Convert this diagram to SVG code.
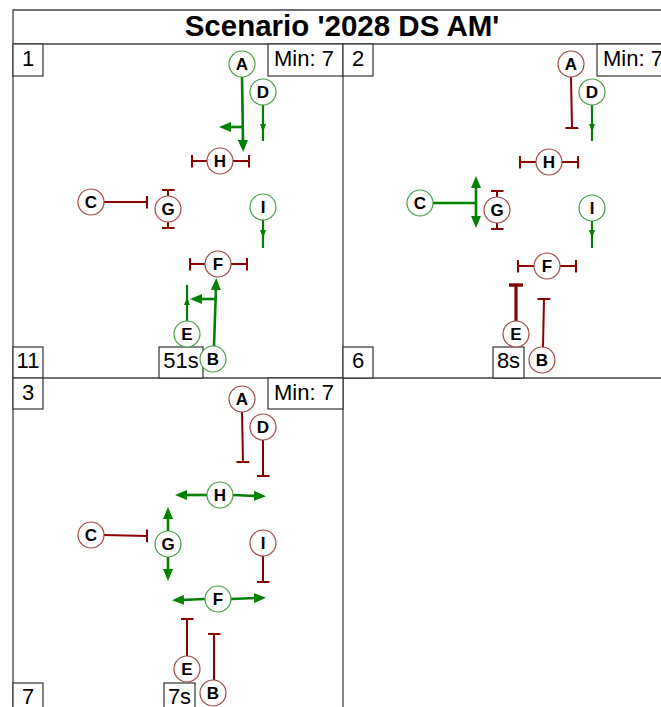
<svg xmlns="http://www.w3.org/2000/svg" width="661" height="707" viewBox="0 0 661 707">
<style>
.frame{fill:none;stroke:#444;stroke-width:1.3}
.box{fill:#fff;stroke:#333;stroke-width:1.2}
.lbl{font-family:"Liberation Sans",Arial,sans-serif;font-size:22px;fill:#000}
.title{font-family:"Liberation Sans",Arial,sans-serif;font-size:29.5px;font-weight:bold;fill:#000}
.ng circle{fill:#fff;stroke:#4a9e4a;stroke-width:1.2}
.nr circle{fill:#fff;stroke:#a04848;stroke-width:1.2}
.node text{font-family:"Liberation Sans",Arial,sans-serif;font-size:17px;font-weight:bold;fill:#000;text-anchor:middle}
.g{fill:none;stroke:#008000;stroke-width:2.6}
.gs{fill:none;stroke:#008000;stroke-width:2.2}
.r{fill:none;stroke:#8b0000;stroke-width:2}
.rt{fill:none;stroke:#8b0000;stroke-width:3.2}
</style>
<defs>
<marker id="arr" markerUnits="userSpaceOnUse" viewBox="0 0 12 10" refX="3" refY="5" markerWidth="12" markerHeight="10" orient="auto-start-reverse"><path d="M0,0 L12,5 L0,10 z" fill="#008000"/></marker>
<marker id="sarr" markerUnits="userSpaceOnUse" viewBox="0 0 8 6" refX="8" refY="3" markerWidth="8" markerHeight="6" orient="auto"><path d="M0,0 L8,3 L0,6 z" fill="#008000"/></marker>
<marker id="tee" markerUnits="userSpaceOnUse" viewBox="0 0 2.4 13" refX="1.2" refY="6.5" markerWidth="2.4" markerHeight="13" orient="auto"><rect x="0" y="0" width="2.4" height="13" fill="#8b0000"/></marker>
<marker id="teeT" markerUnits="userSpaceOnUse" viewBox="0 0 3.4 14" refX="1.7" refY="7" markerWidth="3.4" markerHeight="14" orient="auto"><rect x="0" y="0" width="3.4" height="14" fill="#8b0000"/></marker>
</defs>
<rect x="0" y="0" width="661" height="707" fill="#fff"/>
<g id="frame">
<path class="frame" d="M13,707 L13,10 L673,10 M13,44 L673,44 M343,44 L343,707 M13,378 L673,378"/>
<text class="title" x="342" y="36" text-anchor="middle">Scenario '2028 DS AM'</text>
</g>
<g id="panel-labels">
<rect class="box" x="13" y="44" width="30" height="32"/><text class="lbl" x="28" y="66" text-anchor="middle">1</text>
<rect class="box" x="268" y="44" width="75" height="32"/><text class="lbl" x="274" y="66">Min: 7</text>
<rect class="box" x="13" y="347" width="30" height="31"/><text class="lbl" x="28" y="368" text-anchor="middle">11</text>
<rect class="box" x="159" y="347" width="44" height="31"/><text class="lbl" x="181" y="368" text-anchor="middle">51s</text>
<rect class="box" x="343" y="44" width="30" height="32"/><text class="lbl" x="358" y="66" text-anchor="middle">2</text>
<rect class="box" x="597" y="44" width="76" height="32"/><text class="lbl" x="603" y="66">Min: 7</text>
<rect class="box" x="343" y="347" width="30" height="31"/><text class="lbl" x="358" y="368" text-anchor="middle">6</text>
<rect class="box" x="493" y="347" width="31" height="31"/><text class="lbl" x="508.5" y="368" text-anchor="middle">8s</text>
<rect class="box" x="13" y="378" width="30" height="31"/><text class="lbl" x="28" y="400" text-anchor="middle">3</text>
<rect class="box" x="268" y="378" width="75" height="31"/><text class="lbl" x="274" y="400">Min: 7</text>
<rect class="box" x="13" y="683" width="30" height="31"/><text class="lbl" x="28" y="704" text-anchor="middle">7</text>
<rect class="box" x="164" y="683" width="31" height="31"/><text class="lbl" x="179.5" y="704" text-anchor="middle">7s</text>
</g>
<g id="connectors">
<path class="g" d="M242,77 L243,143" marker-end="url(#arr)"/>
<path class="g" d="M243,127 L228,127" marker-end="url(#arr)"/>
<path class="gs" d="M263,105 L263,132 L263,141" marker-mid="url(#sarr)"/>
<path class="gs" d="M263,220 L263,238 L263,248" marker-mid="url(#sarr)"/>
<path class="r" d="M207,161 L192,161" marker-end="url(#tee)"/>
<path class="r" d="M233,161 L249,161" marker-end="url(#tee)"/>
<path class="r" d="M104,202 L147,202" marker-end="url(#tee)"/>
<path class="r" d="M168,196 L168,190" marker-end="url(#tee)"/>
<path class="r" d="M168,222 L168,228" marker-end="url(#tee)"/>
<path class="r" d="M205,264 L190,264" marker-end="url(#tee)"/>
<path class="r" d="M231,264 L247,264" marker-end="url(#tee)"/>
<path class="g" d="M214,346 L216,287" marker-end="url(#arr)"/>
<path class="g" d="M215,299 L199,299" marker-end="url(#arr)"/>
<path class="gs" d="M187,321 L187,297 L187,285" marker-mid="url(#sarr)"/>
<path class="r" d="M571,77 L572,128" marker-end="url(#tee)"/>
<path class="gs" d="M592,105 L592,132 L592,141" marker-mid="url(#sarr)"/>
<path class="r" d="M536,162 L520,162" marker-end="url(#tee)"/>
<path class="r" d="M562,162 L578,162" marker-end="url(#tee)"/>
<path class="g" d="M433,203 L476,203"/>
<path class="g" d="M476,185 L476,219" marker-start="url(#arr)" marker-end="url(#arr)"/>
<path class="r" d="M497,197 L497,191" marker-end="url(#tee)"/>
<path class="r" d="M497,223 L497,229" marker-end="url(#tee)"/>
<path class="gs" d="M592,221 L592,238 L592,248" marker-mid="url(#sarr)"/>
<path class="r" d="M534,266 L518,266" marker-end="url(#tee)"/>
<path class="r" d="M560,266 L576,266" marker-end="url(#tee)"/>
<path class="rt" d="M516,321 L516,285" marker-end="url(#teeT)"/>
<path class="r" d="M543,347 L544,299" marker-end="url(#tee)"/>
<path class="r" d="M242,412 L243,462" marker-end="url(#tee)"/>
<path class="r" d="M263,440 L263,476" marker-end="url(#tee)"/>
<path class="g" d="M207,495 L184,495" marker-end="url(#arr)"/>
<path class="g" d="M233,495 L257,496" marker-end="url(#arr)"/>
<path class="r" d="M104,535 L147,536" marker-end="url(#tee)"/>
<path class="g" d="M168,531 L168,516" marker-end="url(#arr)"/>
<path class="g" d="M168,557 L168,572" marker-end="url(#arr)"/>
<path class="r" d="M263,556 L263,582" marker-end="url(#tee)"/>
<path class="g" d="M205,599 L181,600" marker-end="url(#arr)"/>
<path class="g" d="M231,599 L257,598" marker-end="url(#arr)"/>
<path class="r" d="M187,656 L187,619" marker-end="url(#tee)"/>
<path class="r" d="M214,680 L214,634" marker-end="url(#tee)"/>
</g>
<g id="p1-A" class="node ng"><circle cx="242" cy="64" r="13"/><text x="242" y="70">A</text></g>
<g id="p1-D" class="node ng"><circle cx="263" cy="92" r="13"/><text x="263" y="98">D</text></g>
<g id="p1-H" class="node nr"><circle cx="220" cy="161" r="13"/><text x="220" y="167">H</text></g>
<g id="p1-C" class="node nr"><circle cx="91" cy="202" r="13"/><text x="91" y="208">C</text></g>
<g id="p1-G" class="node nr"><circle cx="168" cy="209" r="13"/><text x="168" y="215">G</text></g>
<g id="p1-I" class="node ng"><circle cx="263" cy="207" r="13"/><text x="263" y="213">I</text></g>
<g id="p1-F" class="node nr"><circle cx="218" cy="264" r="13"/><text x="218" y="270">F</text></g>
<g id="p1-E" class="node ng"><circle cx="187" cy="334" r="13"/><text x="187" y="340">E</text></g>
<g id="p1-B" class="node ng"><circle cx="213" cy="359" r="13"/><text x="213" y="365">B</text></g>
<g id="p2-A" class="node nr"><circle cx="571" cy="64" r="13"/><text x="571" y="70">A</text></g>
<g id="p2-D" class="node ng"><circle cx="592" cy="92" r="13"/><text x="592" y="98">D</text></g>
<g id="p2-H" class="node nr"><circle cx="549" cy="162" r="13"/><text x="549" y="168">H</text></g>
<g id="p2-C" class="node ng"><circle cx="420" cy="203" r="13"/><text x="420" y="209">C</text></g>
<g id="p2-G" class="node nr"><circle cx="497" cy="210" r="13"/><text x="497" y="216">G</text></g>
<g id="p2-I" class="node ng"><circle cx="592" cy="208" r="13"/><text x="592" y="214">I</text></g>
<g id="p2-F" class="node nr"><circle cx="547" cy="266" r="13"/><text x="547" y="272">F</text></g>
<g id="p2-E" class="node nr"><circle cx="516" cy="334" r="13"/><text x="516" y="340">E</text></g>
<g id="p2-B" class="node nr"><circle cx="542" cy="360" r="13"/><text x="542" y="366">B</text></g>
<g id="p3-A" class="node nr"><circle cx="242" cy="399" r="13"/><text x="242" y="405">A</text></g>
<g id="p3-D" class="node nr"><circle cx="263" cy="427" r="13"/><text x="263" y="433">D</text></g>
<g id="p3-H" class="node ng"><circle cx="220" cy="495" r="13"/><text x="220" y="501">H</text></g>
<g id="p3-C" class="node nr"><circle cx="91" cy="535" r="13"/><text x="91" y="541">C</text></g>
<g id="p3-G" class="node ng"><circle cx="168" cy="544" r="13"/><text x="168" y="550">G</text></g>
<g id="p3-I" class="node nr"><circle cx="263" cy="543" r="13"/><text x="263" y="549">I</text></g>
<g id="p3-F" class="node ng"><circle cx="218" cy="599" r="13"/><text x="218" y="605">F</text></g>
<g id="p3-E" class="node nr"><circle cx="187" cy="669" r="13"/><text x="187" y="675">E</text></g>
<g id="p3-B" class="node nr"><circle cx="213" cy="693" r="13"/><text x="213" y="699">B</text></g>
</svg>
